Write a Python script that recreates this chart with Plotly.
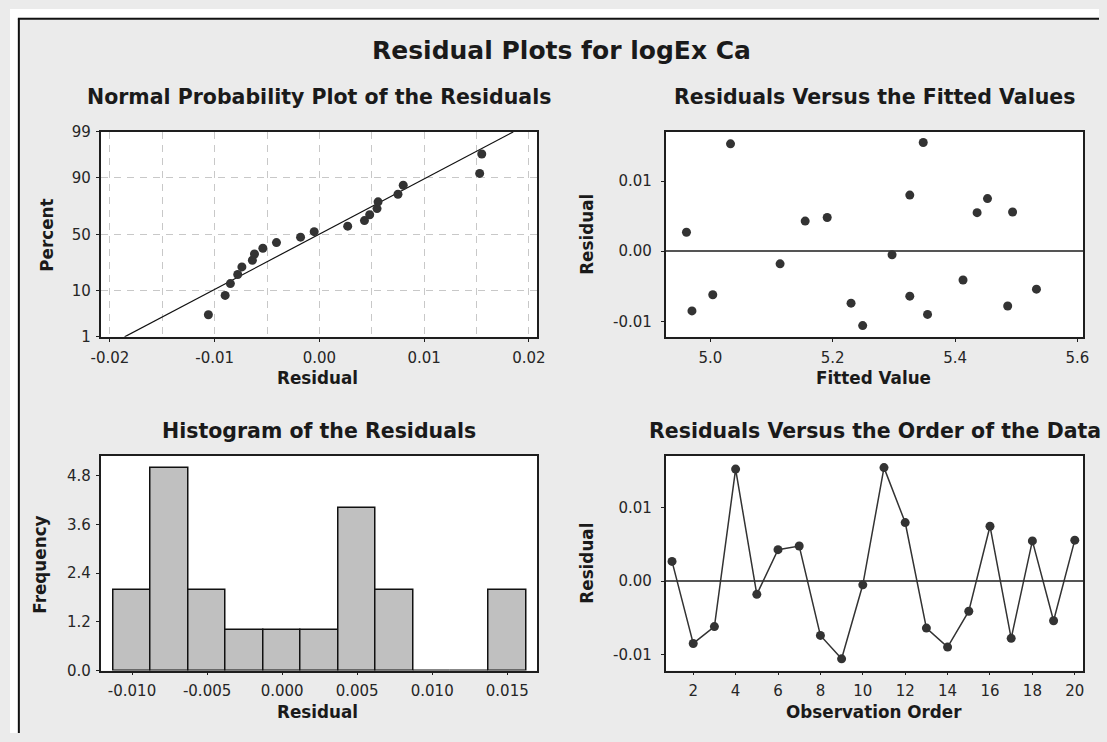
import plotly.graph_objects as go
from statistics import NormalDist

# ---------------- data ----------------
obs_order = list(range(1, 21))
residuals = [0.0027, -0.0085, -0.0062, 0.0153, -0.0018, 0.0043, 0.0048, -0.0074,
             -0.0106, -0.0005, 0.0155, 0.0080, -0.0064, -0.0090, -0.0041, 0.0075,
             -0.0078, 0.0055, -0.0054, 0.0056]
fitted = [4.961, 4.970, 5.004, 5.033, 5.114, 5.155, 5.191, 5.230, 5.249, 5.297,
          5.348, 5.326, 5.326, 5.355, 5.413, 5.453, 5.486, 5.436, 5.533, 5.494]

# normal probability plot: plotted percent of each sorted residual
prob_percent = [3.4, 8.3, 13.2, 18.1, 23.0, 27.9, 32.8, 37.7, 42.6, 47.5,
                52.5, 57.4, 62.3, 67.2, 72.1, 77.0, 81.9, 86.8, 91.7, 96.6]
fit_line_x = [-0.0186, 0.0185]
fit_line_pct = [1, 99]

# histogram
hist_centers = [-0.0100, -0.0075, -0.0050, -0.0025, 0.0000, 0.0025, 0.0050,
                0.0075, 0.0100, 0.0125, 0.0150]
hist_counts = [2, 5, 2, 1, 1, 1, 4, 2, 0, 0, 2]
hist_width = 0.0025

# tick labels
pct_ticks = [1, 10, 50, 90, 99]
pct_ticktext = ["1", "10", "50", "90", "99"]
res_ticks_wide = [-0.02, -0.01, 0.0, 0.01, 0.02]
res_ticktext_wide = ["-0.02", "-0.01", "0.00", "0.01", "0.02"]
res_ticks = [-0.01, 0.0, 0.01]
res_ticktext = ["-0.01", "0.00", "0.01"]
fit_ticks = [5.0, 5.2, 5.4, 5.6]
fit_ticktext = ["5.0", "5.2", "5.4", "5.6"]
hist_xticks = [-0.010, -0.005, 0.000, 0.005, 0.010, 0.015]
hist_xticktext = ["-0.010", "-0.005", "0.000", "0.005", "0.010", "0.015"]
freq_ticks = [0.0, 1.2, 2.4, 3.6, 4.8]
freq_ticktext = ["0.0", "1.2", "2.4", "3.6", "4.8"]
order_ticks = [2, 4, 6, 8, 10, 12, 14, 16, 18, 20]

# ---------------- helpers ----------------
W, H = 1107, 742
nd = NormalDist()


def z(p):
    return nd.inv_cdf(p / 100.0)


def px(x):
    return x / W


def py(y):
    return 1 - y / H


def xd(a, b):
    return [px(a), px(b)]


def yd(top, bottom):
    return [py(bottom), py(top)]


FONT = "DejaVu Sans, sans-serif"
DARK = "#333333"
FRAME = "#1e1e1e"
BG = "#ebebeb"

fig = go.Figure()

# --- 1. normal probability plot
sorted_res = sorted(residuals)
fig.add_trace(go.Scatter(x=fit_line_x, y=[z(p) for p in fit_line_pct], mode="lines",
                         line=dict(color="#111111", width=1.2), xaxis="x", yaxis="y",
                         showlegend=False, hoverinfo="skip"))
fig.add_trace(go.Scatter(x=sorted_res, y=[z(p) for p in prob_percent], mode="markers",
                         marker=dict(color=DARK, size=9), xaxis="x", yaxis="y",
                         showlegend=False))

# --- 2. residuals vs fitted
fig.add_trace(go.Scatter(x=fitted, y=residuals, mode="markers",
                         marker=dict(color=DARK, size=9), xaxis="x2", yaxis="y2",
                         showlegend=False))

# --- 3. histogram
fig.add_trace(go.Bar(x=hist_centers, y=hist_counts, width=hist_width,
                     marker=dict(color="#c0c0c0", line=dict(color="#111111", width=1.5)),
                     xaxis="x3", yaxis="y3", showlegend=False))

# --- 4. residuals vs order
fig.add_trace(go.Scatter(x=obs_order, y=residuals, mode="lines+markers",
                         line=dict(color=DARK, width=1.5),
                         marker=dict(color=DARK, size=9), xaxis="x4", yaxis="y4",
                         showlegend=False))

tickfont = dict(family=FONT, size=15, color="#262626")
base = dict(showline=True, linecolor=FRAME, linewidth=1.5, mirror=True,
            ticks="outside", ticklen=3, tickwidth=1, tickcolor=FRAME,
            tickfont=tickfont, fixedrange=True)
plain = dict(base, showgrid=False, zeroline=False)
grid = dict(gridcolor="#c8c8c8", gridwidth=1, griddash="7px,6px")
zero = dict(base, showgrid=False, zeroline=True, zerolinecolor="#555555",
            zerolinewidth=1.5)

fig.update_layout(
    width=W, height=H,
    margin=dict(l=0, r=0, t=0, b=0),
    paper_bgcolor=BG, plot_bgcolor="white",
    bargap=0,
    xaxis=dict(domain=xd(92, 536), range=[-0.0209, 0.0208], anchor="y",
               tickvals=res_ticks_wide, ticktext=res_ticktext_wide,
               showgrid=True, zeroline=False, ticklabelstandoff=3, **grid,
               minor=dict(dtick=0.005, tick0=0, showgrid=True, ticks="", **grid),
               **base),
    yaxis=dict(domain=yd(126, 336), range=[z(1), z(99)], anchor="x",
               tickvals=[z(p) for p in pct_ticks], ticktext=pct_ticktext,
               showgrid=True, zeroline=False, ticklabelstandoff=2, **grid, **base),
    xaxis2=dict(domain=xd(666.5, 1091), range=[4.927, 5.6095], anchor="y2",
                tickvals=fit_ticks, ticktext=fit_ticktext, ticklabelstandoff=3, **plain),
    yaxis2=dict(domain=yd(126, 336), range=[-0.0122, 0.0170], anchor="x2",
                tickvals=res_ticks, ticktext=res_ticktext, ticklabelstandoff=6, **zero),
    xaxis3=dict(domain=xd(92, 536), range=[-0.0121, 0.0170], anchor="y3",
                tickvals=hist_xticks, ticktext=hist_xticktext, ticklabelstandoff=3,
                **plain),
    yaxis3=dict(domain=yd(458, 678), range=[0, 5.29], anchor="x3",
                tickvals=freq_ticks, ticktext=freq_ticktext, ticklabelstandoff=2,
                **plain),
    xaxis4=dict(domain=xd(666.5, 1091), range=[0.70, 20.40], anchor="y4",
                tickvals=order_ticks, ticklabelstandoff=3, **plain),
    yaxis4=dict(domain=yd(458, 678), range=[-0.0122, 0.0171], anchor="x4",
                tickvals=res_ticks, ticktext=res_ticktext, ticklabelstandoff=6, **zero),
)


def ann(text, x, y, size, angle=0):
    fig.add_annotation(text=text, x=px(x), y=py(y), xref="paper", yref="paper",
                       xanchor="center", yanchor="middle", showarrow=False,
                       textangle=angle,
                       font=dict(family=FONT, size=size, color="#1a1a1a", weight="bold"))


ann("Residual Plots for logEx Ca", 561, 43, 25)
ann("Normal Probability Plot of the Residuals", 314, 90, 20.5)
ann("Residuals Versus the Fitted Values", 879, 90, 20.5)
ann("Histogram of the Residuals", 314, 433, 20.5)
ann("Residuals Versus the Order of the Data", 879, 433, 20.5)

ann("Percent", 38, 232, 16.8, -90)
ann("Residual", 313, 378, 16.8)
ann("Residual", 587, 231, 16.8, -90)
ann("Fitted Value", 878, 378, 16.8)
ann("Frequency", 31, 569, 16.8, -90)
ann("Residual", 313, 720, 16.8)
ann("Residual", 587, 568, 16.8, -90)
ann("Observation Order", 878, 720, 16.8)

# outer frame: white strips outside, dark line on top and left
fig.add_shape(type="rect", xref="paper", yref="paper", x0=0, x1=1, y0=py(9), y1=1,
              fillcolor="white", line=dict(width=0), layer="below")
fig.add_shape(type="rect", xref="paper", yref="paper", x0=0, x1=px(8), y0=0, y1=1,
              fillcolor="white", line=dict(width=0), layer="below")
fig.add_shape(type="line", xref="paper", yref="paper", x0=px(8), x1=1, y0=py(10),
              y1=py(10), line=dict(color="#111111", width=2), layer="below")
fig.add_shape(type="line", xref="paper", yref="paper", x0=px(9), x1=px(9), y0=0,
              y1=py(10), line=dict(color="#111111", width=2), layer="below")

fig.write_html("out.html", config={"displayModeBar": False},
               post_script="document.body.style.margin='0';"
                           "document.body.style.overflow='hidden';")
